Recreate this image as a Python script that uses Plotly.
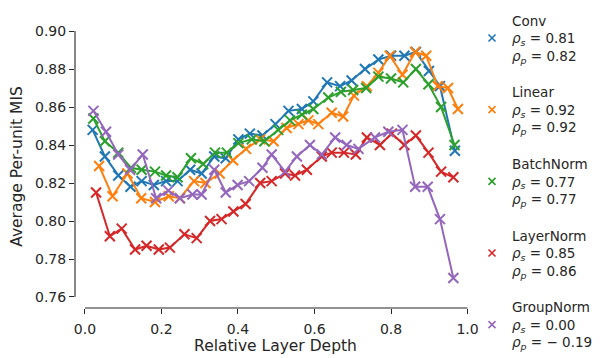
import plotly.graph_objects as go

# ---------------- data ----------------
conv_x = [0.020, 0.052, 0.087, 0.119, 0.148, 0.180, 0.212, 0.242, 0.275, 0.305, 0.338, 0.368, 0.401, 0.431, 0.464,
          0.498, 0.532, 0.567, 0.597, 0.633, 0.667, 0.697, 0.732, 0.767, 0.800, 0.835, 0.865, 0.899, 0.928, 0.967]
conv_y = [0.848, 0.834, 0.824, 0.818, 0.821, 0.819, 0.821, 0.821, 0.827, 0.825, 0.834, 0.833, 0.843, 0.846, 0.845,
          0.851, 0.858, 0.859, 0.863, 0.873, 0.871, 0.874, 0.880, 0.885, 0.887, 0.887, 0.889, 0.879, 0.871, 0.837]

linear_x = [0.037, 0.072, 0.111, 0.147, 0.183, 0.219, 0.248, 0.285, 0.315, 0.352, 0.387, 0.421, 0.458, 0.493, 0.527,
            0.558, 0.584, 0.610, 0.645, 0.675, 0.703, 0.737, 0.767, 0.797, 0.830, 0.863, 0.892, 0.922, 0.949, 0.975]
linear_y = [0.829, 0.813, 0.825, 0.812, 0.810, 0.813, 0.812, 0.821, 0.820, 0.825, 0.832, 0.838, 0.843, 0.842, 0.849,
            0.851, 0.853, 0.851, 0.857, 0.855, 0.866, 0.871, 0.878, 0.887, 0.877, 0.889, 0.887, 0.871, 0.870, 0.859]

bn_x = [0.022, 0.052, 0.087, 0.120, 0.148, 0.183, 0.212, 0.242, 0.277, 0.309, 0.340, 0.371, 0.401, 0.436, 0.469,
        0.505, 0.536, 0.567, 0.597, 0.636, 0.669, 0.701, 0.735, 0.767, 0.800, 0.832, 0.865, 0.898, 0.931, 0.966]
bn_y = [0.854, 0.842, 0.836, 0.828, 0.827, 0.826, 0.824, 0.823, 0.833, 0.830, 0.836, 0.836, 0.841, 0.843, 0.842,
        0.848, 0.853, 0.856, 0.859, 0.865, 0.868, 0.869, 0.870, 0.876, 0.875, 0.873, 0.880, 0.872, 0.860, 0.840]

ln_x = [0.029, 0.065, 0.096, 0.131, 0.161, 0.193, 0.222, 0.260, 0.292, 0.327, 0.357, 0.388, 0.420, 0.458, 0.488,
        0.523, 0.549, 0.580, 0.619, 0.645, 0.677, 0.708, 0.737, 0.771, 0.802, 0.835, 0.865, 0.898, 0.931, 0.963]
ln_y = [0.815, 0.792, 0.796, 0.785, 0.787, 0.785, 0.786, 0.793, 0.791, 0.800, 0.801, 0.805, 0.809, 0.820, 0.821,
        0.825, 0.824, 0.827, 0.834, 0.836, 0.836, 0.835, 0.844, 0.840, 0.846, 0.840, 0.845, 0.836, 0.826, 0.823]

gn_x = [0.022, 0.055, 0.087, 0.118, 0.151, 0.186, 0.218, 0.248, 0.281, 0.305, 0.338, 0.368, 0.399, 0.429, 0.464,
        0.488, 0.523, 0.554, 0.588, 0.619, 0.654, 0.684, 0.715, 0.758, 0.793, 0.830, 0.863, 0.896, 0.928, 0.963]
gn_y = [0.858, 0.847, 0.835, 0.827, 0.835, 0.812, 0.816, 0.812, 0.814, 0.814, 0.827, 0.815, 0.819, 0.821, 0.828,
        0.835, 0.826, 0.834, 0.840, 0.835, 0.844, 0.840, 0.838, 0.844, 0.847, 0.848, 0.818, 0.818, 0.801, 0.770]

names = ["Conv", "Linear", "BatchNorm", "LayerNorm", "GroupNorm"]
rho_s = ["0.81", "0.92", "0.77", "0.85", "0.00"]
rho_p = ["0.82", "0.92", "0.77", "0.86", "− 0.19"]

y_ticks = [0.76, 0.78, 0.80, 0.82, 0.84, 0.86, 0.88, 0.90]
x_ticks = [0.0, 0.2, 0.4, 0.6, 0.8, 1.0]

colors = ["#1f77b4", "#ff7f0e", "#2ca02c", "#d62728", "#9467bd"]
series = [(conv_x, conv_y), (linear_x, linear_y), (bn_x, bn_y), (ln_x, ln_y), (gn_x, gn_y)]

FONT = "DejaVu Sans"
fig = go.Figure()

for (xs, ys), c, n in zip(series, colors, names):
    fig.add_trace(go.Scatter(
        x=xs, y=ys, mode="lines+markers", showlegend=False, name=n,
        line=dict(color=c, width=2),
        marker=dict(symbol="x-thin", size=10, color=c, line=dict(color=c, width=2)),
    ))

for i, (c, n) in enumerate(zip(colors, names)):
    label = (f"{n}<br><i>ρ</i><sub><i>s</i></sub> = {rho_s[i]}"
             f"<br><i>ρ</i><sub><i>p</i></sub> = {rho_p[i]}")
    fig.add_trace(go.Scatter(
        x=[None], y=[None], mode="markers", name=label, legendgroup=n,
        marker=dict(symbol="x-thin", size=7, color=c, line=dict(color=c, width=1.6)),
    ))

# The page shows the figure offset by the browser's 8px body margin; the plot
# area is placed so that it lands where the reference has it in the window.
fig.update_layout(
    width=596, height=350,
    margin=dict(l=67, r=128, t=17, b=50, autoexpand=False),
    paper_bgcolor="white", plot_bgcolor="white",
    font=dict(family=FONT, size=14, color="#262626"),
    showlegend=True,
    legend=dict(x=0.990, xanchor="left", y=1.070, yanchor="top",
                font=dict(family=FONT, size=13.5, color="#262626"),
                tracegroupgap=16, itemwidth=30, bgcolor="rgba(0,0,0,0)",
                maxheight=600),
    xaxis=dict(range=[-0.0261, 1.0222], tickvals=x_ticks, ticktext=[f"{v:.1f}" for v in x_ticks],
               showgrid=False, zeroline=False, showline=False,
               ticks="outside", ticklen=5, tickwidth=1, tickcolor="#262626",
               tickfont=dict(size=14), ticklabelstandoff=3,
               title=dict(text="Relative Layer Depth", standoff=4, font=dict(size=15.5))),
    yaxis=dict(range=[0.7542, 0.9032], tickvals=y_ticks, ticktext=[f"{v:.2f}" for v in y_ticks],
               showgrid=False, zeroline=False, showline=False,
               ticks="outside", ticklen=5, tickwidth=1, tickcolor="#262626",
               tickfont=dict(size=14),
               title=dict(text="Average Per-unit MIS", standoff=15, font=dict(size=15.5))),
    shapes=[
        dict(type="line", xref="paper", yref="y", x0=0, x1=0, y0=y_ticks[0], y1=y_ticks[-1],
             line=dict(color="#262626", width=1.1)),
        dict(type="line", xref="x", yref="paper", x0=x_ticks[0], x1=x_ticks[-1], y0=0, y1=0,
             line=dict(color="#262626", width=1.1)),
    ],
)

fig.write_html("out.html")
